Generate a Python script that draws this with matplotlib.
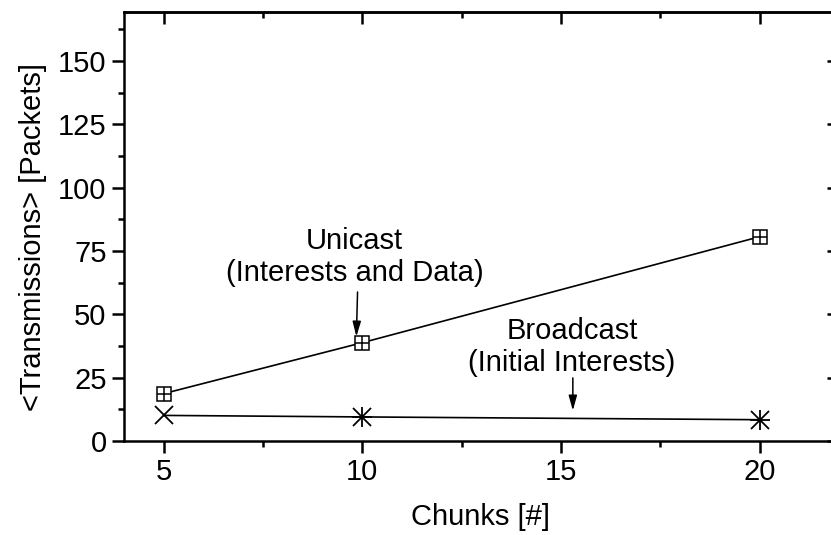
import matplotlib
matplotlib.use("Agg")
import matplotlib.pyplot as plt
from matplotlib.ticker import MultipleLocator

# data
chunks = [5, 10, 20]
unicast = [18.7, 38.8, 80.6]
broadcast = [10.1, 9.5, 8.4]
broadcast_star = [10, 20]          # points drawn as asterisks
broadcast_star_vals = [9.5, 8.4]

plt.rcParams['font.family'] = ['Liberation Sans', 'DejaVu Sans']
FS = 21

fig = plt.figure(figsize=(8.31, 5.35), dpi=100)
ax = fig.add_axes([0.1492, 0.1757, 0.8604, 0.8019])

# unicast: boxed plus
ax.plot(chunks, unicast, color='black', lw=1.2, marker='s', ms=10,
        mfc='white', mec='black', mew=1.1, zorder=3)
ax.plot(chunks, unicast, ls='none', marker='+', ms=10, mec='black',
        mew=1.1, zorder=4)

# broadcast: cross, asterisk at the last two
ax.plot(chunks, broadcast, color='black', lw=1.2, marker='x', ms=13,
        mec='black', mew=1.3, zorder=3)
ax.plot(broadcast_star, broadcast_star_vals, ls='none', marker='+', ms=14,
        mec='black', mew=1.3, zorder=4)

ax.set_xlim(4, 22)
ax.set_ylim(0, 169.3)
ax.xaxis.set_major_locator(MultipleLocator(5))
ax.xaxis.set_minor_locator(MultipleLocator(2.5))
ax.yaxis.set_major_locator(MultipleLocator(25))
ax.yaxis.set_minor_locator(MultipleLocator(12.5))

for s in ax.spines.values():
    s.set_linewidth(1.8)

ax.tick_params(which='both', labelsize=FS, width=1.8, direction='out',
               top=False, right=False)
ax.tick_params(which='major', length=8.5, pad=4)
ax.tick_params(which='minor', length=4.5)

# inward ticks on top and right
sec_x = ax.secondary_xaxis('top')
sec_x.xaxis.set_major_locator(MultipleLocator(5))
sec_x.xaxis.set_minor_locator(MultipleLocator(2.5))
sec_x.tick_params(which='both', direction='in', width=1.8, labeltop=False)
sec_x.tick_params(which='major', length=8.5)
sec_x.tick_params(which='minor', length=4.5)
sec_x.spines['top'].set_linewidth(1.8)
sec_y = ax.secondary_yaxis('right')
sec_y.yaxis.set_major_locator(MultipleLocator(25))
sec_y.yaxis.set_minor_locator(MultipleLocator(12.5))
sec_y.tick_params(which='both', direction='in', width=1.8, labelright=False)
sec_y.tick_params(which='major', length=8.5)
sec_y.tick_params(which='minor', length=0)

ax.set_xlabel('Chunks [#]', fontsize=FS)
ax.set_ylabel('<Transmissions> [Packets]', fontsize=FS)
ax.xaxis.set_label_coords(0.499, -0.145)
ax.yaxis.set_label_coords(-0.108, 0.4755)

arrow = dict(arrowstyle='-|>,head_length=0.9,head_width=0.25', color='black',
             lw=1.1, shrinkA=0, shrinkB=0)
ax.text(9.81, 72.5, 'Unicast\n(Interests and Data)', ha='center',
        va='center', fontsize=FS, linespacing=1.2)
ax.annotate('', xy=(9.85, 41.2), xytext=(9.88, 58.8), arrowprops=arrow)

ax.text(15.28, 37.0, 'Broadcast\n(Initial Interests)', ha='center',
        va='center', fontsize=FS, linespacing=1.2)
ax.annotate('', xy=(15.3, 12.0), xytext=(15.3, 24.9), arrowprops=arrow)

fig.savefig('out.png', dpi=100)
